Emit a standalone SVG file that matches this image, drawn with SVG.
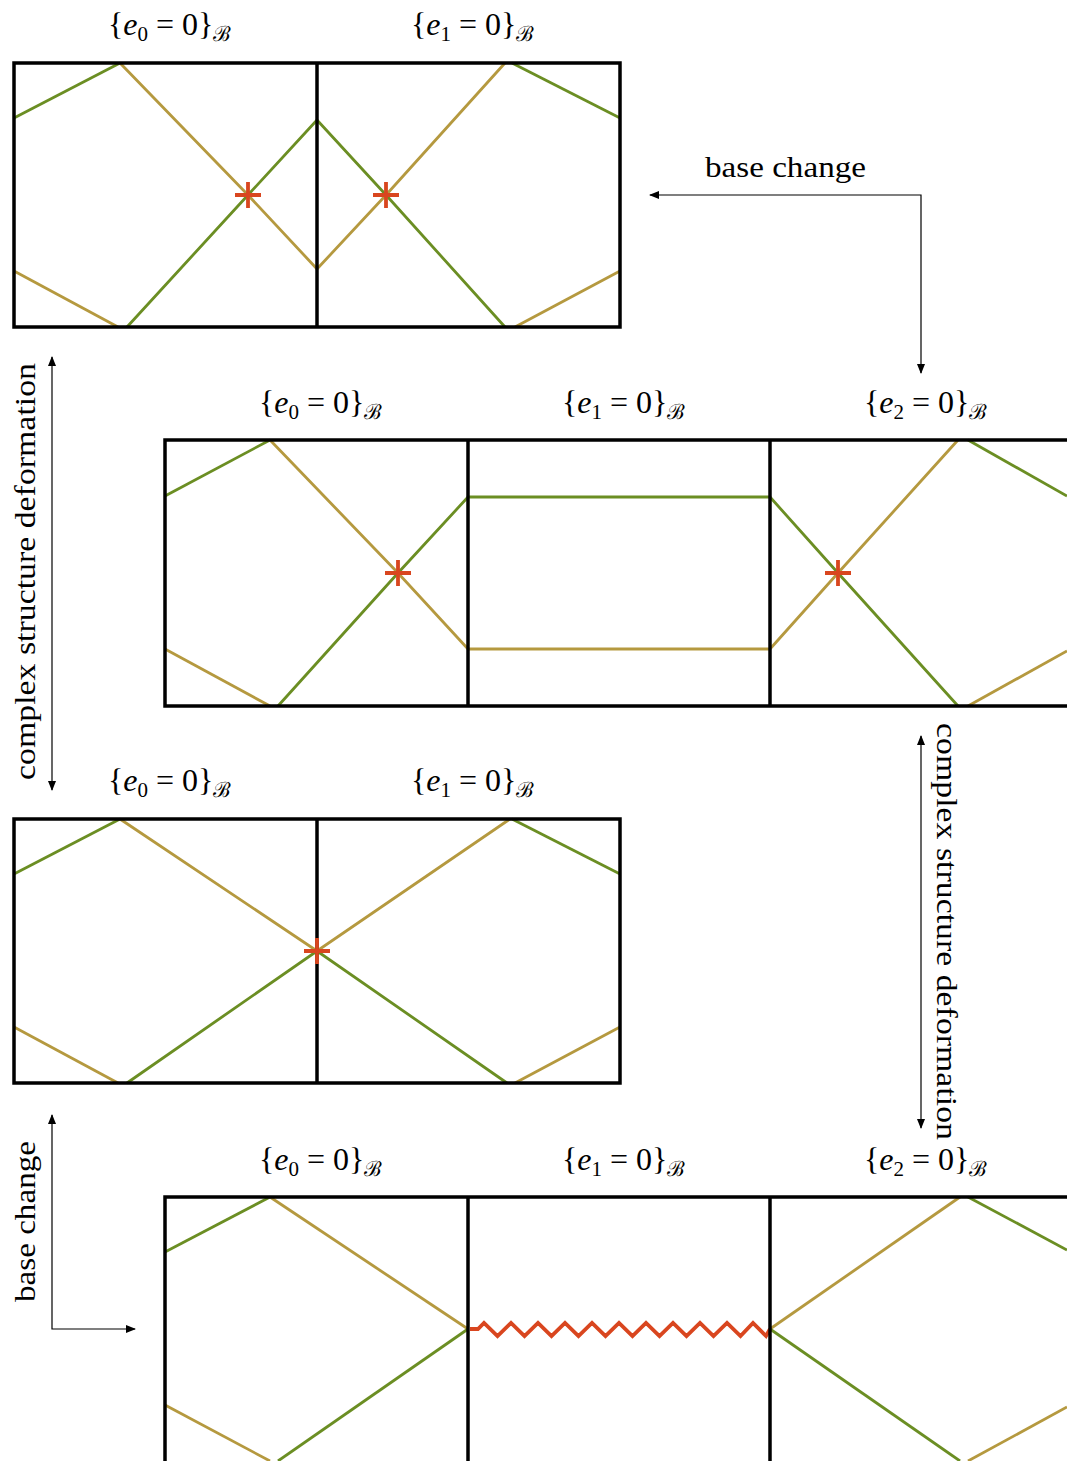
<svg xmlns="http://www.w3.org/2000/svg" width="1067" height="1461" viewBox="0 0 1067 1461">
<style>
.box{fill:none;stroke:#000;stroke-width:3.5}
.div{stroke:#000;stroke-width:3.5}
.g{fill:none;stroke:#6B8E23;stroke-width:2.8}
.t{fill:none;stroke:#B5993F;stroke-width:2.8}
.x{fill:none;stroke:#D9461F;stroke-width:3.8}
.lab{font-family:"Liberation Serif","DejaVu Serif",serif;font-size:29px;fill:#000}
.m{font-family:"Liberation Serif","DejaVu Serif",serif;font-size:32px;fill:#000}
.it{font-style:italic}
.sub{font-size:21px}
.arr{fill:none;stroke:#000;stroke-width:1.2}
</style>
<defs>
<marker id="ah" viewBox="0 0 10 8" refX="9" refY="4" markerWidth="10" markerHeight="8" markerUnits="userSpaceOnUse" orient="auto-start-reverse">
<path d="M0,0 L10,4 L0,8 Z" fill="#000"/>
</marker>
</defs>

<g id="panel1">
<polyline class="g" points="14,118 120,63"/>
<polyline class="t" points="120,63 248,195 317,269"/>
<polyline class="g" points="127,327 248,195 317,120"/>
<polyline class="t" points="14,271 118,327"/>
<polyline class="g" points="317,120 386,195 505,327"/>
<polyline class="t" points="317,269 386,195 505,63"/>
<polyline class="g" points="512,63 620,118"/>
<polyline class="t" points="515,327 620,271"/>
<rect class="box" x="14" y="63" width="606" height="264"/>
<line class="div" x1="317" y1="63" x2="317" y2="327"/>
<path class="x" d="M235,195 H261 M248,182 V208"/>
<path class="x" d="M373,195 H399 M386,182 V208"/>
<text class="m" x="108" y="35">{<tspan class="it">e</tspan><tspan class="sub" dy="6">0</tspan><tspan dy="-6"> = 0}</tspan><tspan class="sub" dy="6">ℬ</tspan></text>
<text class="m" x="411" y="35">{<tspan class="it">e</tspan><tspan class="sub" dy="6">1</tspan><tspan dy="-6"> = 0}</tspan><tspan class="sub" dy="6">ℬ</tspan></text>
</g>

<g id="panel2">
<polyline class="g" points="165,496 270,440"/>
<polyline class="t" points="270,440 398,573 468,649"/>
<polyline class="g" points="278,706 398,573 468,497"/>
<polyline class="t" points="165,649 270,706"/>
<polyline class="g" points="468,497 770,497"/>
<polyline class="t" points="468,649 770,649"/>
<polyline class="g" points="770,497 838,573 958,706"/>
<polyline class="t" points="770,649 838,573 958,440"/>
<polyline class="g" points="968,440 1067,496"/>
<polyline class="t" points="968,706 1067,651"/>
<rect class="box" x="165" y="440" width="1000" height="266"/>
<line class="div" x1="468" y1="440" x2="468" y2="706"/>
<line class="div" x1="770" y1="440" x2="770" y2="706"/>
<path class="x" d="M385,573 H411 M398,560 V586"/>
<path class="x" d="M825,573 H851 M838,560 V586"/>
<text class="m" x="259" y="413">{<tspan class="it">e</tspan><tspan class="sub" dy="6">0</tspan><tspan dy="-6"> = 0}</tspan><tspan class="sub" dy="6">ℬ</tspan></text>
<text class="m" x="562" y="413">{<tspan class="it">e</tspan><tspan class="sub" dy="6">1</tspan><tspan dy="-6"> = 0}</tspan><tspan class="sub" dy="6">ℬ</tspan></text>
<text class="m" x="864" y="413">{<tspan class="it">e</tspan><tspan class="sub" dy="6">2</tspan><tspan dy="-6"> = 0}</tspan><tspan class="sub" dy="6">ℬ</tspan></text>
</g>

<g id="panel3">
<polyline class="g" points="14,874 120,819"/>
<polyline class="t" points="120,819 317,951 510,819"/>
<polyline class="g" points="127,1083 317,951 507,1083"/>
<polyline class="t" points="14,1027 118,1083"/>
<polyline class="g" points="512,819 620,874"/>
<polyline class="t" points="515,1083 620,1027"/>
<rect class="box" x="14" y="819" width="606" height="264"/>
<line class="div" x1="317" y1="819" x2="317" y2="1083"/>
<path class="x" d="M304,951 H330 M317,938 V964"/>
<text class="m" x="108" y="791">{<tspan class="it">e</tspan><tspan class="sub" dy="6">0</tspan><tspan dy="-6"> = 0}</tspan><tspan class="sub" dy="6">ℬ</tspan></text>
<text class="m" x="411" y="791">{<tspan class="it">e</tspan><tspan class="sub" dy="6">1</tspan><tspan dy="-6"> = 0}</tspan><tspan class="sub" dy="6">ℬ</tspan></text>
</g>

<g id="panel4">
<polyline class="g" points="165,1252 270,1197"/>
<polyline class="t" points="270,1197 468,1329"/>
<polyline class="g" points="278,1461 468,1329"/>
<polyline class="t" points="165,1405 270,1461"/>
<polyline class="t" points="770,1329 960,1197"/>
<polyline class="g" points="770,1329 960,1461"/>
<polyline class="g" points="968,1197 1067,1250"/>
<polyline class="t" points="968,1461 1067,1407"/>
<polyline class="x" stroke-width="2.8" points="470,1329 478,1329 484,1323 497.5,1336 511,1323 524.5,1336 538,1323 551.5,1336 565,1323 578.5,1336 592,1323 605.5,1336 619,1323 632.5,1336 646,1323 659.5,1336 673,1323 686.5,1336 700,1323 713.5,1336 727,1323 740.5,1336 753,1323 766,1336 770,1329"/>
<rect class="box" x="165" y="1197" width="1000" height="266"/>
<line class="div" x1="468" y1="1197" x2="468" y2="1461"/>
<line class="div" x1="770" y1="1197" x2="770" y2="1461"/>
<text class="m" x="259" y="1170">{<tspan class="it">e</tspan><tspan class="sub" dy="6">0</tspan><tspan dy="-6"> = 0}</tspan><tspan class="sub" dy="6">ℬ</tspan></text>
<text class="m" x="562" y="1170">{<tspan class="it">e</tspan><tspan class="sub" dy="6">1</tspan><tspan dy="-6"> = 0}</tspan><tspan class="sub" dy="6">ℬ</tspan></text>
<text class="m" x="864" y="1170">{<tspan class="it">e</tspan><tspan class="sub" dy="6">2</tspan><tspan dy="-6"> = 0}</tspan><tspan class="sub" dy="6">ℬ</tspan></text>
</g>

<g id="connectors">
<polyline class="arr" points="921,373 921,195 650,195" marker-start="url(#ah)" marker-end="url(#ah)"/>
<text class="lab" x="705" y="177" textLength="161" lengthAdjust="spacingAndGlyphs">base change</text>
<line class="arr" x1="52" y1="357" x2="52" y2="790" marker-start="url(#ah)" marker-end="url(#ah)"/>
<text class="lab" transform="translate(35,780) rotate(-90)" textLength="417" lengthAdjust="spacingAndGlyphs">complex structure deformation</text>
<line class="arr" x1="921" y1="736" x2="921" y2="1128" marker-start="url(#ah)" marker-end="url(#ah)"/>
<text class="lab" transform="translate(937,723) rotate(90)" textLength="417" lengthAdjust="spacingAndGlyphs">complex structure deformation</text>
<polyline class="arr" points="52,1115 52,1329 135,1329" marker-start="url(#ah)" marker-end="url(#ah)"/>
<text class="lab" transform="translate(35,1302) rotate(-90)" textLength="161" lengthAdjust="spacingAndGlyphs">base change</text>
</g>
</svg>
